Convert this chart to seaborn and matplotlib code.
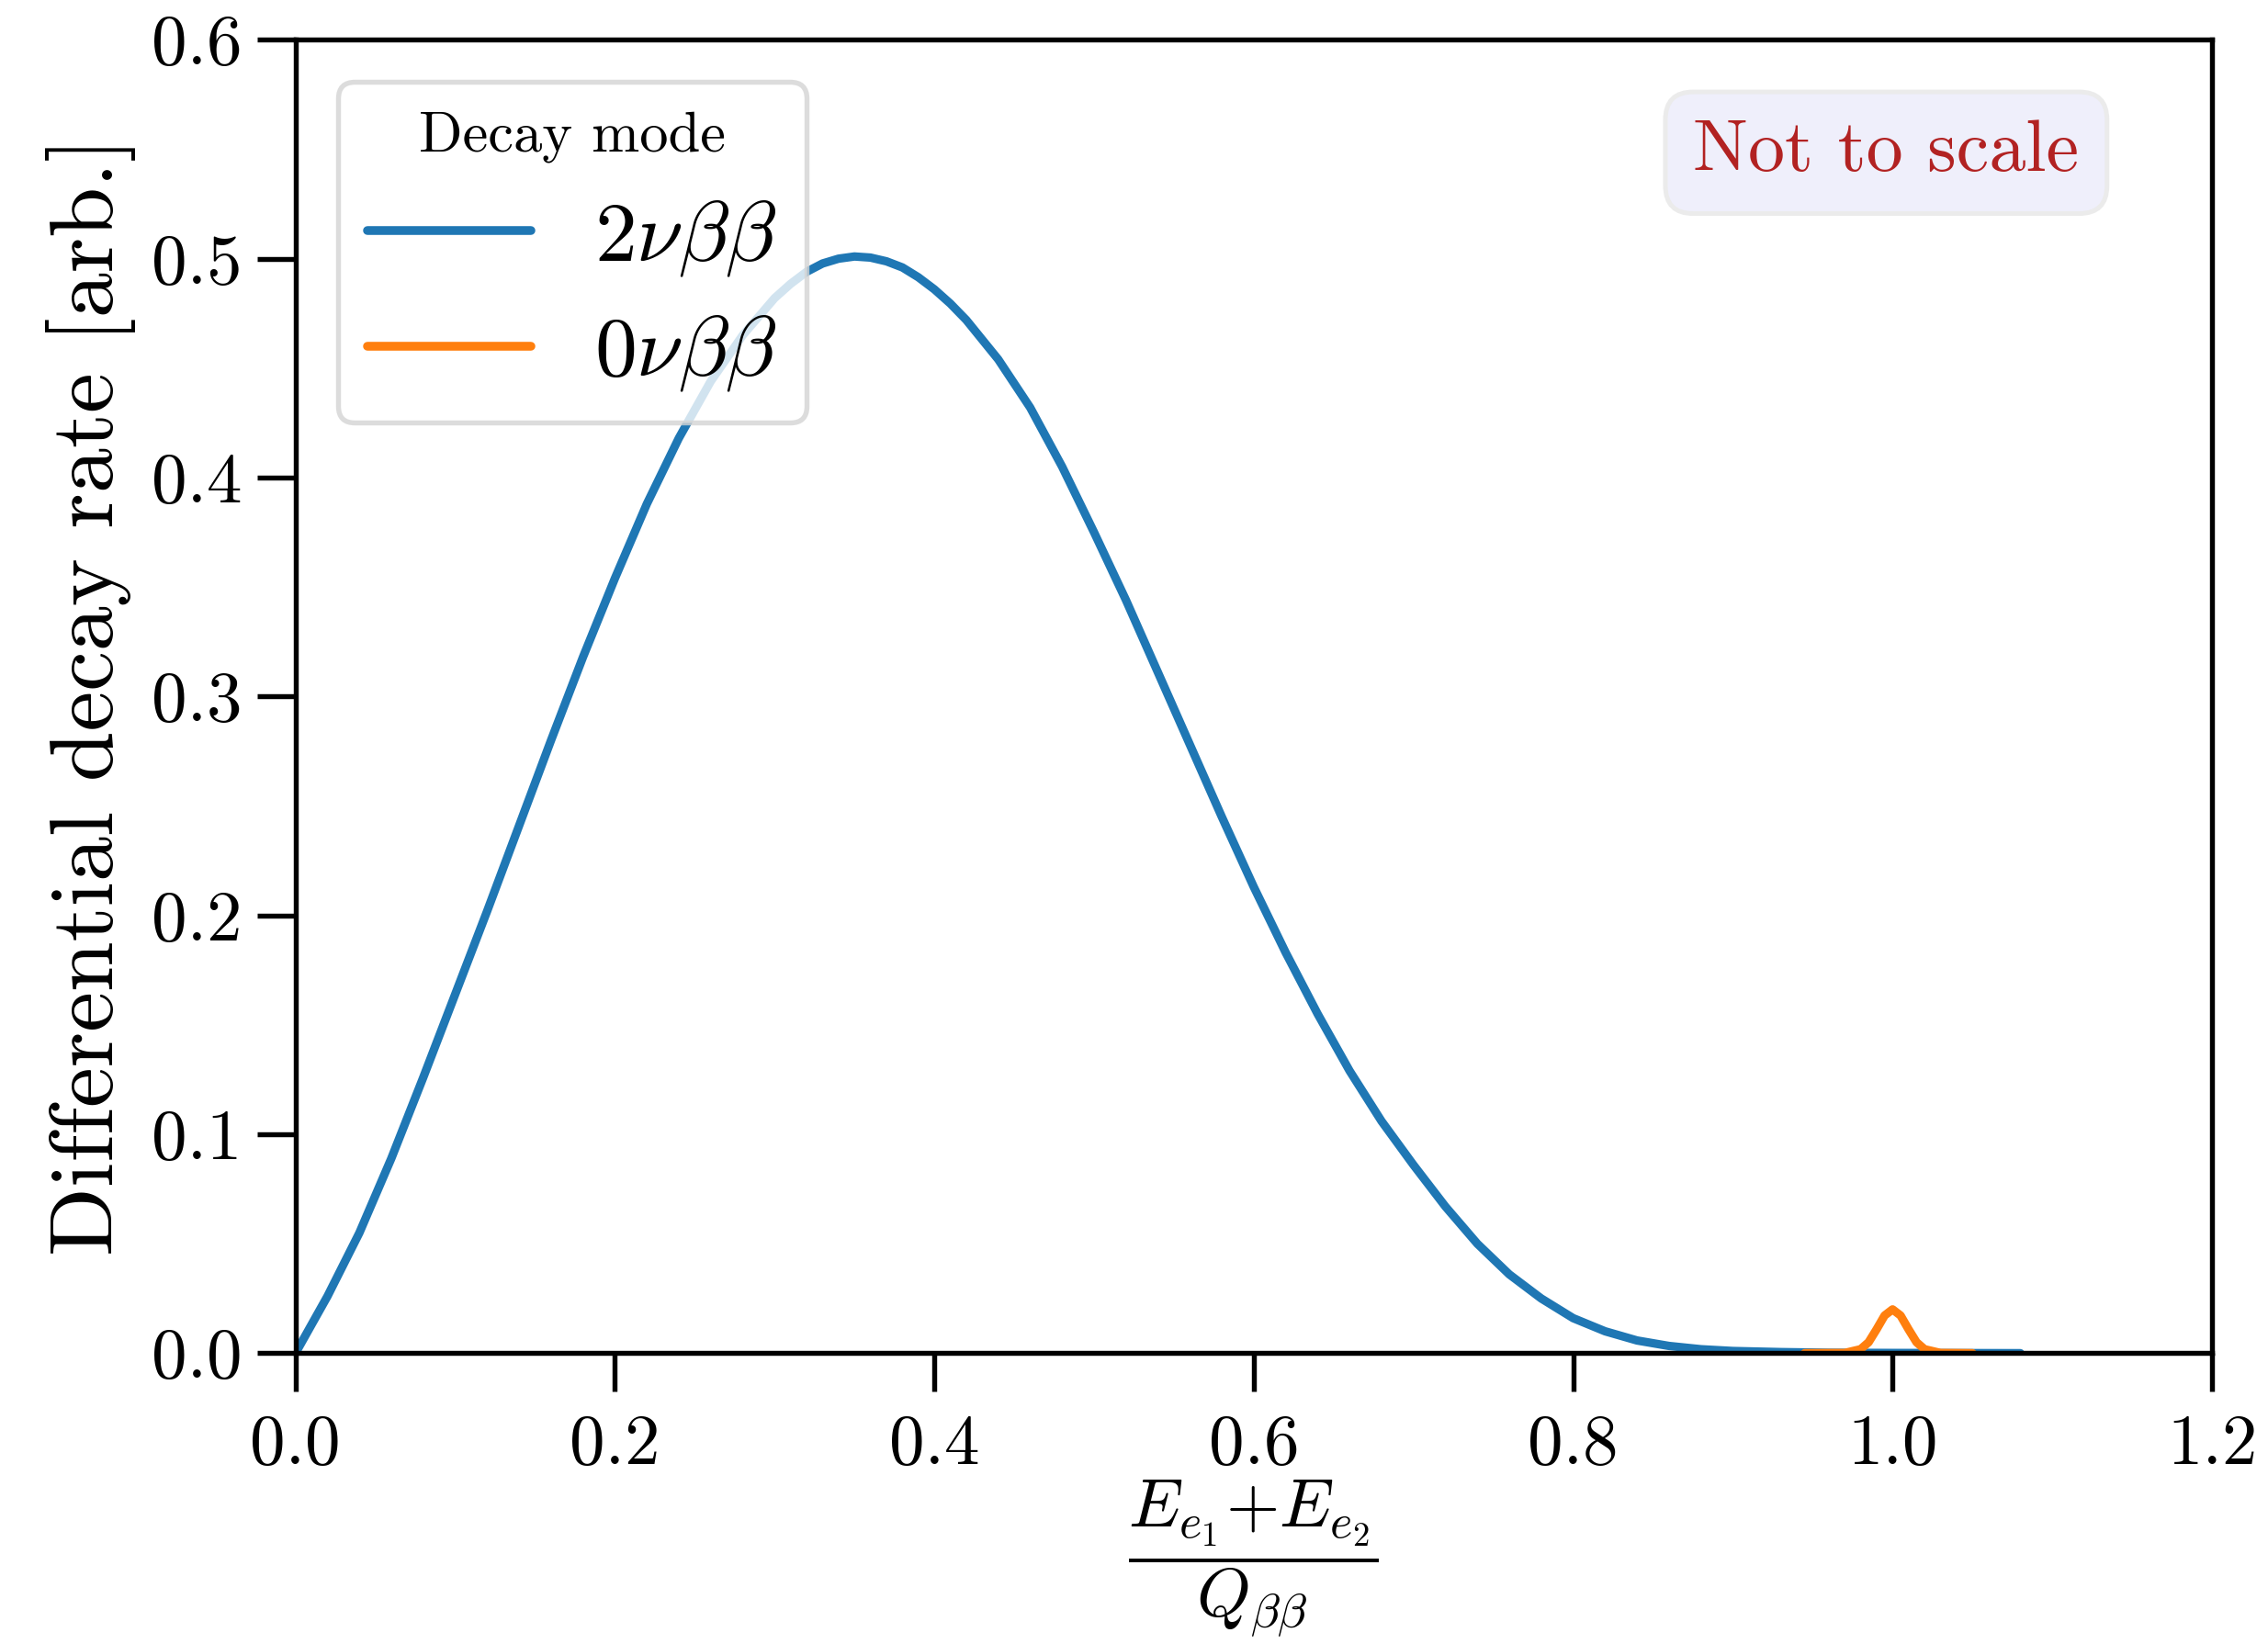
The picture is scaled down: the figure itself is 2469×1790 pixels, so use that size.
import numpy as np
import pandas as pd
import matplotlib
matplotlib.use("Agg")
import matplotlib.pyplot as plt
import seaborn as sns

# Two-neutrino double beta decay: summed electron energy spectrum (arbitrary units)
x_2nu = [0.000, 0.020, 0.040, 0.060, 0.080, 0.100, 0.120, 0.140, 0.160, 0.180,
         0.200, 0.220, 0.240, 0.260, 0.280, 0.300, 0.310, 0.320, 0.330, 0.340,
         0.350, 0.360, 0.370, 0.380, 0.390, 0.400, 0.410, 0.420, 0.440, 0.460,
         0.480, 0.500, 0.520, 0.540, 0.560, 0.580, 0.600, 0.620, 0.640, 0.660,
         0.680, 0.700, 0.720, 0.740, 0.760, 0.780, 0.800, 0.820, 0.840, 0.860,
         0.880, 0.900, 0.930, 0.960, 1.000, 1.080]
y_2nu = [0.000, 0.026, 0.055, 0.089, 0.126, 0.164, 0.202, 0.241, 0.280, 0.318,
         0.354, 0.388, 0.418, 0.444, 0.465, 0.482, 0.4885, 0.494, 0.4978, 0.500,
         0.501, 0.5005, 0.4988, 0.496, 0.4915, 0.486, 0.4795, 0.472, 0.454, 0.432,
         0.405, 0.375, 0.344, 0.311, 0.278, 0.245, 0.213, 0.183, 0.155, 0.129,
         0.106, 0.086, 0.067, 0.050, 0.036, 0.025, 0.016, 0.010, 0.0058, 0.0033,
         0.0018, 0.0010, 0.0005, 0.0002, 0.0001, 0.000]

# Neutrinoless double beta decay: narrow peak at the Q-value
x_0nu = [0.945, 0.970, 0.980, 0.985, 0.990, 0.995, 1.000, 1.005, 1.010, 1.015,
         1.020, 1.030, 1.050]
y_0nu = [0.000, 0.0001, 0.0018, 0.0050, 0.0109, 0.0172, 0.0200, 0.0172, 0.0109,
         0.0050, 0.0018, 0.0001, 0.000]

modes = [r"$2\nu\beta\beta$", r"$0\nu\beta\beta$"]
x_ticks = [0.0, 0.2, 0.4, 0.6, 0.8, 1.0, 1.2]
y_ticks = [0.0, 0.1, 0.2, 0.3, 0.4, 0.5, 0.6]

df = pd.concat([
    pd.DataFrame({"x": x_2nu, "rate": y_2nu, "Decay mode": modes[0]}),
    pd.DataFrame({"x": x_0nu, "rate": y_0nu, "Decay mode": modes[1]}),
], ignore_index=True)

sns.set_style("ticks")
plt.rcParams.update({
    "font.family": ["cmr10", "DejaVu Serif"],
    "mathtext.fontset": "cm",
    "axes.formatter.use_mathtext": True,
    "axes.unicode_minus": False,
    "axes.linewidth": 1.3,
    "axes.edgecolor": "black",
    "axes.labelcolor": "black",
    "text.color": "black",
    "xtick.major.size": 10,
    "ytick.major.size": 10,
    "xtick.major.width": 1.3,
    "ytick.major.width": 1.3,
    "xtick.color": "black",
    "ytick.color": "black",
    "lines.solid_capstyle": "round",
    "lines.solid_joinstyle": "round",
})

fig = plt.figure(figsize=(2469 / 300, 1790 / 300), dpi=300)
ax = fig.add_axes([0.1303, 0.1769, 0.8450, 0.7989])

sns.lineplot(data=df, x="x", y="rate", hue="Decay mode", hue_order=modes,
             palette=["#1f77b4", "#ff7f0e"], estimator=None, sort=False,
             linewidth=2.2, ax=ax)

ax.set_xlim(0, 1.2)
ax.set_ylim(0, 0.6)
ax.set_xticks(x_ticks)
ax.set_yticks(y_ticks)
ax.set_xticklabels([f"{v:.1f}" for v in x_ticks])
ax.set_yticklabels([f"{v:.1f}" for v in y_ticks])
ax.tick_params(axis="both", labelsize=18.5)
ax.tick_params(axis="x", pad=6)
ax.tick_params(axis="y", pad=4)

ax.set_xlabel(r"$\dfrac{E_{e_1}{+}E_{e_2}}{Q_{\beta\beta}}$", fontsize=18, labelpad=0)
ax.set_ylabel("Differential decay rate [arb.]", fontsize=23.6, labelpad=4)

leg = ax.legend(title="Decay mode", loc="upper left", fontsize=22,
                title_fontsize=15, framealpha=0.8, fancybox=True,
                borderaxespad=0.5, borderpad=0.35, labelspacing=0.42,
                handlelength=1.95, handletextpad=0.75)
leg.get_frame().set_edgecolor("#d4d4d4")
leg.get_frame().set_linewidth(1.3)
for line in leg.get_lines():
    line.set_linewidth(2.3)
for txt in leg.get_texts():
    txt.set_color("black")
leg.get_title().set_color("black")

ax.text(0.83, 0.914, "Not to scale", transform=ax.transAxes, fontsize=19.2,
        color="#b22222", ha="center", va="center",
        bbox=dict(boxstyle="round,pad=0.38", facecolor="#efeffb",
                  edgecolor="#ebebeb", linewidth=1.2))

fig.savefig("out.png", dpi=300)
